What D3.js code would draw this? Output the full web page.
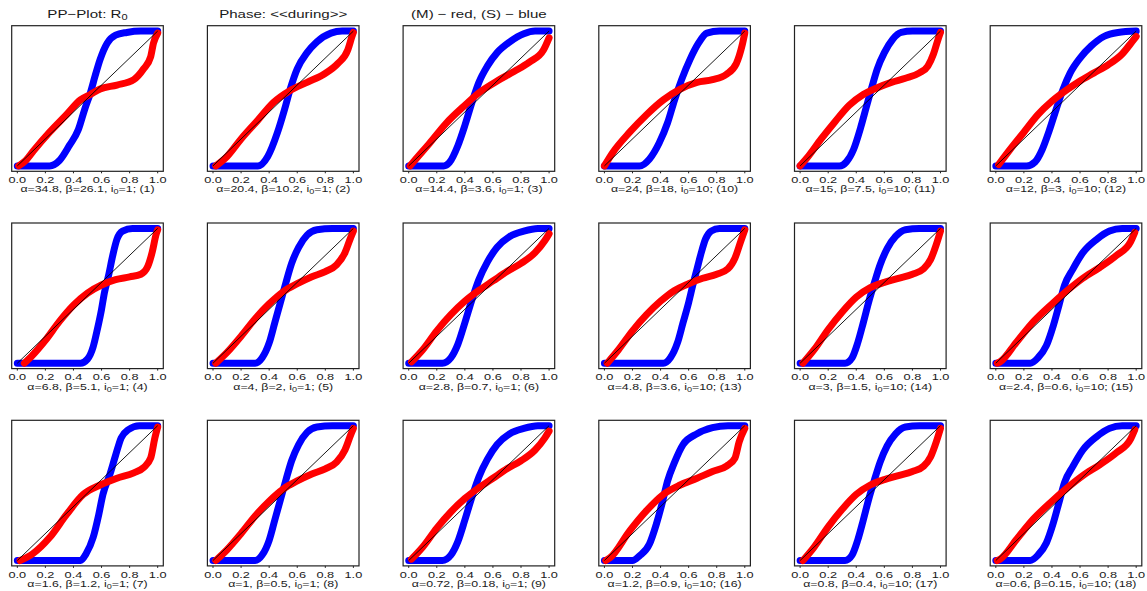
<!DOCTYPE html>
<html>
<head>
<meta charset="utf-8">
<script src="https://cdn.jsdelivr.net/npm/d3@7"></script>
<style>
  body { margin: 0; background: #fff; }
  svg text { font-family: "Liberation Sans", Arial, sans-serif; fill: #1a1a1a; }
</style>
</head>
<body>
<svg id="chart" width="1147" height="591"></svg>
<script>
// PP plots, 3 rows x 6 panels, (M) red / (S) blue
var xTicks = [0, 0.2, 0.4, 0.6, 0.8, 1.0];
var titles = ['PP\u2212Plot: R', 'Phase: <<during>>', '(M) \u2212 red, (S) \u2212 blue'];
var panelIds = [1, 2, 3, 10, 11, 12, 4, 5, 6, 13, 14, 15, 7, 8, 9, 16, 17, 18];
var alphas = ['34.8', '20.4', '14.4', '24', '15', '12', '6.8', '4', '2.8', '4.8', '3', '2.4', '1.6', '1', '0.72', '1.2', '0.8', '0.6'];
var betas = ['26.1', '10.2', '3.6', '18', '7.5', '3', '5.1', '2', '0.7', '3.6', '1.5', '0.6', '1.2', '0.5', '0.18', '0.9', '0.4', '0.15'];
var i0s = [1, 1, 1, 10, 10, 10, 1, 1, 1, 10, 10, 10, 1, 1, 1, 10, 10, 10];

// (M) curves, panel order left-right, top-bottom
var mRed = [
  [[0.01,0],[0.06,0.04],[0.114,0.11],[0.23,0.25],[0.35,0.38],[0.45,0.49],[0.52,0.53],[0.59,0.57],[0.71,0.6],[0.83,0.64],[0.9,0.72],[0.95,0.81],[0.97,0.91],[1,0.985]],
  [[0.02,0],[0.1,0.07],[0.2,0.2],[0.32,0.34],[0.43,0.47],[0.55,0.56],[0.67,0.62],[0.79,0.68],[0.89,0.76],[0.96,0.86],[0.99,0.96],[1,0.99]],
  [[0.01,0],[0.03,0.025],[0.15,0.17],[0.27,0.32],[0.39,0.44],[0.51,0.55],[0.63,0.63],[0.75,0.7],[0.86,0.77],[0.96,0.86],[1,0.95]],
  [[0,0],[0.06,0.1],[0.18,0.25],[0.3,0.38],[0.42,0.49],[0.54,0.57],[0.66,0.62],[0.77,0.64],[0.87,0.68],[0.94,0.76],[0.98,0.89],[1,0.985]],
  [[0,0],[0.05,0.06],[0.15,0.2],[0.25,0.33],[0.35,0.45],[0.45,0.53],[0.55,0.58],[0.65,0.62],[0.75,0.65],[0.85,0.69],[0.91,0.74],[0.95,0.83],[0.98,0.93],[1,0.99]],
  [[0.02,0.01],[0.1,0.12],[0.2,0.25],[0.3,0.38],[0.4,0.48],[0.5,0.56],[0.6,0.63],[0.7,0.69],[0.8,0.75],[0.9,0.83],[0.97,0.92],[1,0.96]],
  [[0.05,0],[0.1,0.05],[0.2,0.17],[0.3,0.31],[0.4,0.43],[0.5,0.52],[0.6,0.58],[0.7,0.62],[0.8,0.64],[0.88,0.66],[0.93,0.72],[0.96,0.82],[0.99,0.96],[1,0.99]],
  [[0.02,0],[0.1,0.08],[0.2,0.2],[0.3,0.33],[0.4,0.44],[0.5,0.53],[0.6,0.59],[0.7,0.64],[0.8,0.68],[0.88,0.73],[0.94,0.82],[0.98,0.93],[1,0.98]],
  [[0.02,0.01],[0.1,0.1],[0.2,0.24],[0.3,0.36],[0.4,0.46],[0.5,0.54],[0.6,0.61],[0.7,0.68],[0.8,0.74],[0.9,0.82],[0.97,0.91],[1,0.96]],
  [[0.02,0],[0.1,0.1],[0.2,0.24],[0.3,0.36],[0.4,0.46],[0.5,0.54],[0.6,0.59],[0.7,0.63],[0.8,0.66],[0.88,0.7],[0.93,0.78],[0.97,0.9],[1,0.99]],
  [[0.02,0],[0.1,0.1],[0.2,0.25],[0.3,0.38],[0.4,0.49],[0.5,0.56],[0.6,0.6],[0.7,0.63],[0.8,0.66],[0.88,0.7],[0.93,0.77],[0.97,0.88],[1,0.98]],
  [[0.01,0],[0.03,0.01],[0.15,0.16],[0.27,0.31],[0.39,0.43],[0.51,0.54],[0.62,0.63],[0.74,0.71],[0.86,0.8],[0.96,0.9],[0.99,0.97]],
  [[0.02,0],[0.11,0.05],[0.23,0.17],[0.35,0.34],[0.47,0.49],[0.59,0.56],[0.71,0.61],[0.83,0.65],[0.9,0.69],[0.95,0.76],[0.98,0.91],[1,0.99]],
  [[0.02,0],[0.1,0.08],[0.2,0.2],[0.3,0.33],[0.4,0.44],[0.5,0.53],[0.6,0.59],[0.7,0.64],[0.8,0.68],[0.88,0.73],[0.94,0.82],[0.98,0.93],[1,0.98]],
  [[0.02,0.01],[0.1,0.1],[0.2,0.24],[0.3,0.36],[0.4,0.46],[0.5,0.54],[0.6,0.61],[0.7,0.68],[0.8,0.74],[0.9,0.82],[0.97,0.91],[1,0.96]],
  [[0.01,0],[0.04,0.02],[0.18,0.22],[0.3,0.37],[0.42,0.49],[0.54,0.56],[0.66,0.61],[0.77,0.66],[0.87,0.7],[0.93,0.76],[0.96,0.88],[1,0.98]],
  [[0.02,0],[0.1,0.1],[0.2,0.25],[0.3,0.38],[0.4,0.49],[0.5,0.56],[0.6,0.6],[0.7,0.63],[0.8,0.66],[0.88,0.7],[0.93,0.77],[0.97,0.88],[1,0.98]],
  [[0.01,0],[0.03,0.01],[0.15,0.16],[0.27,0.31],[0.39,0.43],[0.51,0.54],[0.62,0.63],[0.74,0.71],[0.86,0.8],[0.96,0.9],[0.99,0.97]]
];

// (S) curves
var sBlue = [
  [[0,0],[0.23,0],[0.3,0.04],[0.37,0.15],[0.435,0.27],[0.48,0.42],[0.52,0.54],[0.555,0.67],[0.59,0.79],[0.64,0.91],[0.7,0.97],[0.78,0.99],[0.88,1],[1,1]],
  [[0,0],[0.32,0],[0.39,0.07],[0.46,0.25],[0.51,0.42],[0.55,0.57],[0.6,0.72],[0.67,0.84],[0.74,0.92],[0.84,0.985],[0.92,1],[1,1]],
  [[0,0],[0.25,0],[0.29,0.025],[0.35,0.15],[0.4,0.3],[0.45,0.47],[0.5,0.62],[0.56,0.74],[0.63,0.84],[0.72,0.92],[0.82,0.98],[0.9,1],[1,1]],
  [[0,0],[0.25,0],[0.32,0.05],[0.39,0.17],[0.45,0.32],[0.5,0.49],[0.55,0.64],[0.61,0.79],[0.67,0.91],[0.73,0.985],[0.82,1],[1,1]],
  [[0,0],[0.28,0],[0.33,0.03],[0.38,0.12],[0.43,0.28],[0.47,0.43],[0.51,0.58],[0.55,0.72],[0.6,0.84],[0.66,0.94],[0.72,0.99],[0.8,1],[1,1]],
  [[0,0],[0.22,0],[0.28,0.03],[0.33,0.12],[0.38,0.26],[0.43,0.42],[0.48,0.57],[0.53,0.69],[0.6,0.8],[0.68,0.89],[0.77,0.96],[0.87,0.99],[1,1]],
  [[0,0],[0.45,0],[0.5,0.03],[0.54,0.12],[0.57,0.25],[0.6,0.4],[0.62,0.52],[0.65,0.65],[0.68,0.8],[0.71,0.92],[0.75,0.98],[0.82,1],[1,1]],
  [[0,0],[0.3,0],[0.35,0.04],[0.4,0.15],[0.44,0.3],[0.48,0.45],[0.52,0.6],[0.56,0.74],[0.61,0.86],[0.67,0.95],[0.74,0.99],[0.85,1],[1,1]],
  [[0,0],[0.24,0],[0.3,0.04],[0.35,0.14],[0.4,0.3],[0.45,0.47],[0.5,0.62],[0.56,0.75],[0.63,0.86],[0.72,0.94],[0.82,0.98],[0.92,1],[1,1]],
  [[0,0],[0.42,0],[0.47,0.04],[0.52,0.15],[0.56,0.3],[0.6,0.45],[0.63,0.58],[0.66,0.7],[0.69,0.82],[0.72,0.92],[0.76,0.98],[0.82,1],[1,1]],
  [[0,0],[0.32,0],[0.37,0.04],[0.41,0.15],[0.45,0.3],[0.49,0.46],[0.53,0.6],[0.57,0.73],[0.62,0.85],[0.68,0.94],[0.75,0.99],[0.85,1],[1,1]],
  [[0,0],[0.245,0],[0.3,0.04],[0.36,0.13],[0.41,0.28],[0.45,0.43],[0.49,0.58],[0.55,0.7],[0.62,0.82],[0.72,0.92],[0.81,0.98],[0.9,1],[1,1]],
  [[0,0],[0.45,0],[0.49,0.05],[0.54,0.17],[0.58,0.34],[0.61,0.49],[0.66,0.64],[0.7,0.78],[0.74,0.91],[0.79,0.97],[0.87,1],[1,1]],
  [[0,0],[0.3,0],[0.35,0.04],[0.4,0.15],[0.44,0.3],[0.48,0.45],[0.52,0.6],[0.56,0.74],[0.61,0.86],[0.67,0.95],[0.74,0.99],[0.85,1],[1,1]],
  [[0,0],[0.24,0],[0.3,0.04],[0.35,0.14],[0.4,0.3],[0.45,0.47],[0.5,0.62],[0.56,0.75],[0.63,0.86],[0.72,0.94],[0.82,0.98],[0.92,1],[1,1]],
  [[0,0],[0.2,0],[0.25,0.035],[0.32,0.12],[0.37,0.27],[0.41,0.42],[0.45,0.59],[0.5,0.73],[0.56,0.86],[0.66,0.94],[0.77,0.985],[0.88,1],[1,1]],
  [[0,0],[0.32,0],[0.37,0.04],[0.41,0.15],[0.45,0.3],[0.49,0.46],[0.53,0.6],[0.57,0.73],[0.62,0.85],[0.68,0.94],[0.75,0.99],[0.85,1],[1,1]],
  [[0,0],[0.245,0],[0.3,0.04],[0.36,0.13],[0.41,0.28],[0.45,0.43],[0.49,0.58],[0.55,0.7],[0.62,0.82],[0.72,0.92],[0.81,0.98],[0.9,1],[1,1]]
];

var colX0 = 11.7, colStep = 195.7, boxW = 151.6;
var rowY0 = 25.7, rowStep = 197.3, boxH = 145.6;
var stretch = 1.3;   // text is wide in the picture

var svg = d3.select('#chart');
var x = d3.scaleLinear().domain([-0.04, 1.04]).range([0, boxW]);
var y = d3.scaleLinear().domain([-0.04, 1.04]).range([boxH, 0]);
var line = d3.line()
    .x(function(d) { return x(d[0]); })
    .y(function(d) { return y(d[1]); })
    .curve(d3.curveMonotoneX);

function wideText(g, tx, ty, size) {
  return g.append('g')
      .attr('transform', 'translate(' + tx + ',' + ty + ') scale(' + stretch + ',1)')
    .append('text')
      .attr('text-anchor', 'middle')
      .style('font-size', size + 'px');
}

for (var p = 0; p < 18; p++) {
  var col = p % 6, row = Math.floor(p / 6);
  var g = svg.append('g')
      .attr('transform', 'translate(' + (colX0 + col * colStep) + ',' + (rowY0 + row * rowStep) + ')');

  g.append('path').datum(sBlue[p])
      .attr('d', line)
      .attr('fill', 'none')
      .attr('stroke', '#0000ff')
      .attr('stroke-width', 7)
      .attr('stroke-linecap', 'round')
      .attr('stroke-linejoin', 'round');
  g.append('path').datum(mRed[p])
      .attr('d', line)
      .attr('fill', 'none')
      .attr('stroke', '#ff0000')
      .attr('stroke-width', 7)
      .attr('stroke-linecap', 'round')
      .attr('stroke-linejoin', 'round');

  // diagonal
  g.append('line')
      .attr('x1', x(0)).attr('y1', y(0))
      .attr('x2', x(1)).attr('y2', y(1))
      .attr('stroke', '#000')
      .attr('stroke-width', 0.9);

  g.append('rect')
      .attr('width', boxW).attr('height', boxH)
      .attr('fill', 'none')
      .attr('stroke', '#222')
      .attr('stroke-width', 1.2);

  // x axis
  xTicks.forEach(function(t) {
    g.append('line')
        .attr('x1', x(t)).attr('x2', x(t))
        .attr('y1', boxH).attr('y2', boxH + 2)
        .attr('stroke', '#222');
    wideText(g, x(t), boxH + 11.8, 9.8).text(d3.format('.1f')(t));
  });

  var cap = wideText(g, boxW / 2, boxH + 21, 9.5);
  cap.append('tspan').text('\u03b1=' + alphas[p] + ', \u03b2=' + betas[p] + ', i');
  cap.append('tspan').attr('dy', 2).style('font-size', '7px').text('0');
  cap.append('tspan').attr('dy', -2).text('=' + i0s[p] + '; (' + panelIds[p] + ')');

  if (row === 0 && col < 3) {
    var tt = wideText(g, boxW / 2, -7.5, 11.6);
    tt.append('tspan').text(titles[col]);
    if (col === 0) {
      tt.append('tspan').attr('dy', 2).style('font-size', '8.5px').text('0');
    }
  }
}
</script>
</body>
</html>
